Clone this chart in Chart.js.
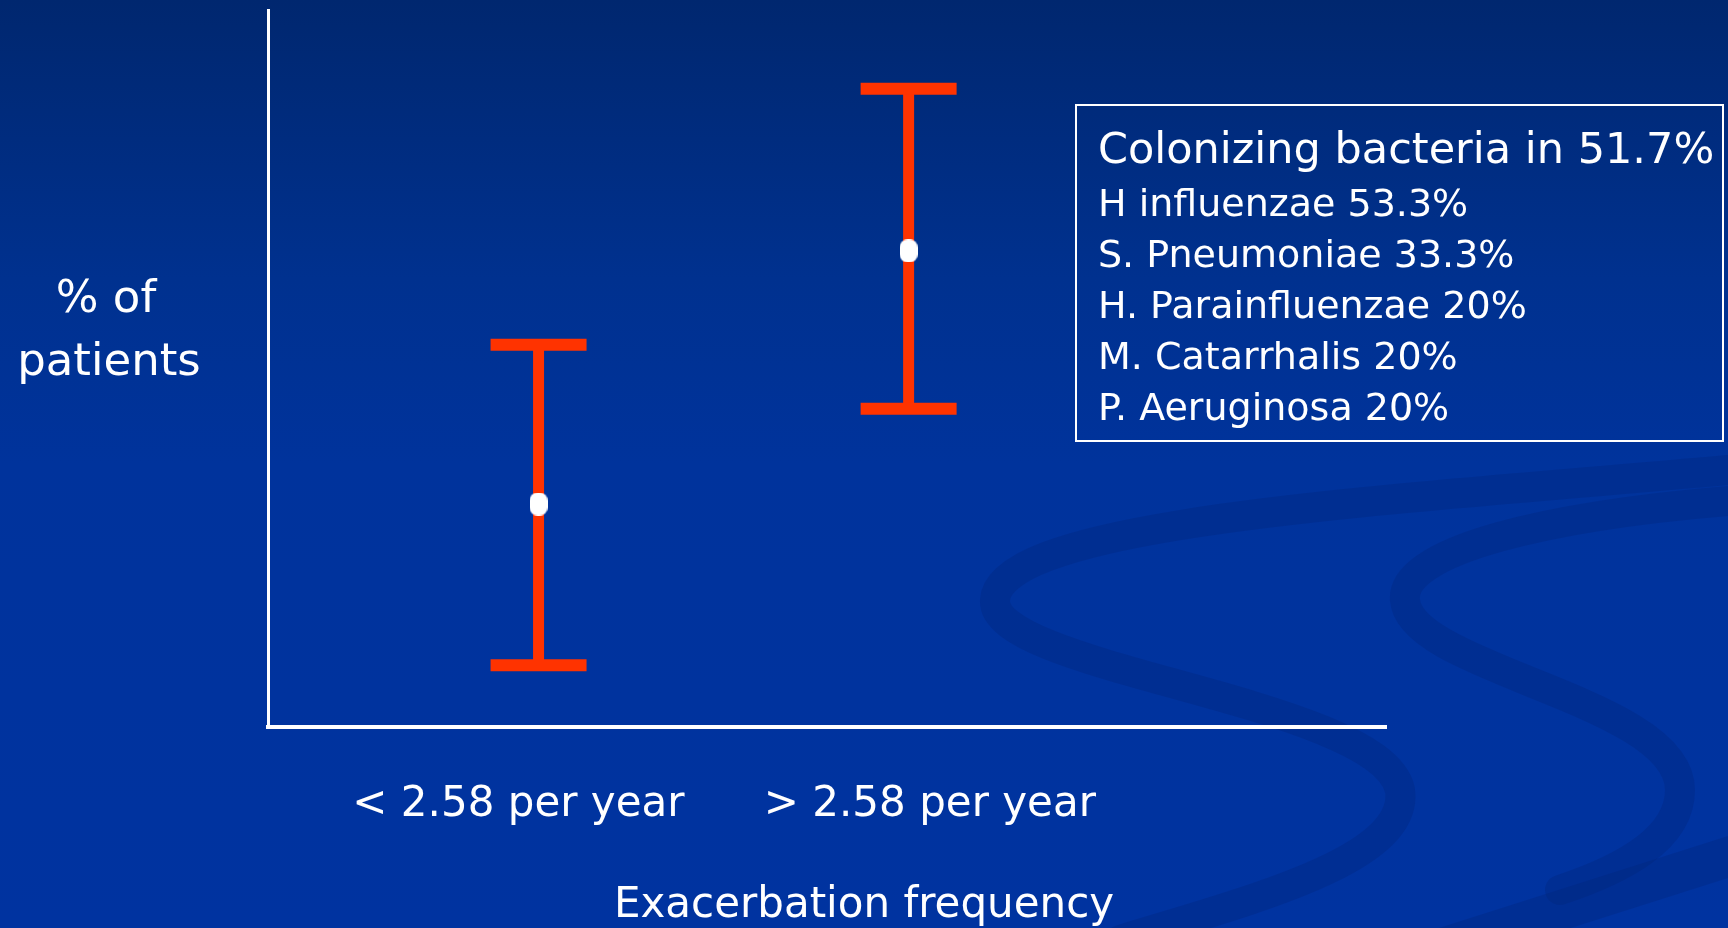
<!DOCTYPE html>
<html>
<head>
<meta charset="utf-8">
<script src="https://cdn.jsdelivr.net/npm/chart.js@4.4.1/dist/chart.umd.min.js"></script>
<style>
  html, body { margin: 0; padding: 0; background: #0033a0; overflow: hidden; }
  #wrap { width: 1728px; height: 928px; }
</style>
</head>
<body>
<div id="wrap"><canvas id="myChart" width="1728" height="928"></canvas></div>
<script>
// categorie sull'asse x
const categories = ['< 2.58 per year', '> 2.58 per year'];
// posizione (scala 0-100) delle barre e delle etichette
const barX = [24.2, 57.3];
const tickX = [22.4, 59.2];

// % of patients: punto centrale e estremi dell'intervallo
const meanValues = [31.1, 66.4];
const lowValues = [8.6, 44.4];
const highValues = [53.3, 89.0];

// riquadro batteri
const colonizedPct = 51.7;
const bacteria = ['H influenzae', 'S. Pneumoniae', 'H. Parainfluenzae', 'M. Catarrhalis', 'P. Aeruginosa'];
const bacteriaPct = [53.3, 33.3, 20, 20, 20];

const yTitle = ['% of', 'patients'];
const xTitle = 'Exacerbation frequency';

const RED = '#ff3300';
const FONT = 'Tahoma, "DejaVu Sans", sans-serif';

Chart.defaults.font.family = FONT;

// punto bianco leggermente allungato
const dot = document.createElement('canvas');
dot.width = 18; dot.height = 23;
(function () {
    const c = dot.getContext('2d');
    c.fillStyle = '#ffffff';
    c.beginPath();
    c.roundRect(0, 0, 18, 23, 8);
    c.fill();
})();

// sfondo con gradiente e onde decorative
const background = {
    id: 'background',
    beforeDraw(chart) {
        const ctx = chart.ctx;
        ctx.save();
        const g = ctx.createLinearGradient(0, 0, 0, 928);
        g.addColorStop(0, '#00276f');
        g.addColorStop(0.3, '#00318f');
        g.addColorStop(0.5, '#00339c');
        g.addColorStop(1, '#0033a0');
        ctx.fillStyle = g;
        ctx.fillRect(0, 0, 1728, 928);

        ctx.strokeStyle = 'rgba(0, 36, 120, 0.3)';
        ctx.lineCap = 'round';
        ctx.lineWidth = 30;
        ctx.beginPath();
        ctx.moveTo(1728, 470);
        ctx.bezierCurveTo(1400, 500, 1000, 520, 995, 600);
        ctx.bezierCurveTo(990, 670, 1380, 700, 1400, 790);
        ctx.bezierCurveTo(1410, 860, 1250, 900, 1120, 940);
        ctx.stroke();

        ctx.beginPath();
        ctx.moveTo(1740, 500);
        ctx.bezierCurveTo(1550, 515, 1400, 550, 1405, 600);
        ctx.bezierCurveTo(1410, 670, 1680, 700, 1680, 790);
        ctx.bezierCurveTo(1680, 840, 1620, 870, 1560, 890);
        ctx.stroke();

        ctx.lineWidth = 40;
        ctx.beginPath();
        ctx.moveTo(1420, 955);
        ctx.lineTo(1750, 850);
        ctx.stroke();
        ctx.restore();
    }
};

// titoli e riquadro
const overlay = {
    id: 'overlay',
    afterDraw(chart) {
        const ctx = chart.ctx;
        ctx.save();
        ctx.fillStyle = '#ffffff';
        ctx.textBaseline = 'alphabetic';

        ctx.textAlign = 'center';
        ctx.font = '45px ' + FONT;
        ctx.fillText(yTitle[0], 106, 312);
        ctx.fillText(yTitle[1], 109, 375);

        ctx.font = '42px ' + FONT;
        ctx.fillText(xTitle, 864, 917);

        ctx.strokeStyle = '#ffffff';
        ctx.lineWidth = 2;
        ctx.strokeRect(1076, 105, 647, 336);

        ctx.textAlign = 'left';
        ctx.font = '43px ' + FONT;
        ctx.fillText('Colonizing bacteria in ' + colonizedPct + '%', 1098, 163);
        ctx.font = '38px ' + FONT;
        bacteria.forEach((b, i) => {
            ctx.fillText(b + ' ' + bacteriaPct[i] + '%', 1098, 216 + i * 51);
        });
        ctx.restore();
    }
};

const whiskers = categories.map((c, i) => ({
    type: 'line',
    label: c,
    order: 1,
    data: [{x: barX[i], y: lowValues[i]}, {x: barX[i], y: highValues[i]}],
    borderColor: RED,
    borderWidth: 11,
    borderCapStyle: 'butt',
    pointStyle: 'line',
    pointRadius: 48,
    pointBorderWidth: 12,
    pointBorderColor: RED,
    pointBackgroundColor: RED
}));

const means = {
    type: 'scatter',
    label: '% of patients',
    order: 0,
    data: meanValues.map((v, i) => ({x: barX[i], y: v})),
    pointStyle: dot
};

var ctx = document.getElementById('myChart');
var myChart = new Chart(ctx, {
    type: 'scatter',
    data: { datasets: [means].concat(whiskers) },
    plugins: [background, overlay],
    options: {
        responsive: false,
        animation: false,
        devicePixelRatio: 1,
        events: [],
        layout: { autoPadding: false, padding: { left: 268, right: 342, top: 10, bottom: 0 } },
        plugins: { legend: { display: false }, tooltip: { enabled: false } },
        scales: {
            x: {
                type: 'linear',
                min: 0,
                max: 100,
                afterBuildTicks: s => { s.ticks = tickX.map(v => ({ value: v })); },
                afterFit: s => { s.height = 201; },
                grid: { display: false, drawTicks: false },
                border: { display: true, color: '#ffffff', width: 4 },
                ticks: {
                    color: '#ffffff',
                    font: { size: 42 },
                    padding: 53,
                    maxRotation: 0,
                    autoSkip: false,
                    callback: (v, i) => categories[i]
                }
            },
            y: {
                min: 0,
                max: 100,
                afterFit: s => { s.width = 0; },
                ticks: { display: false },
                grid: { display: false, drawTicks: false },
                border: { display: true, color: '#ffffff', width: 3 }
            }
        }
    }
});
</script>
</body>
</html>
